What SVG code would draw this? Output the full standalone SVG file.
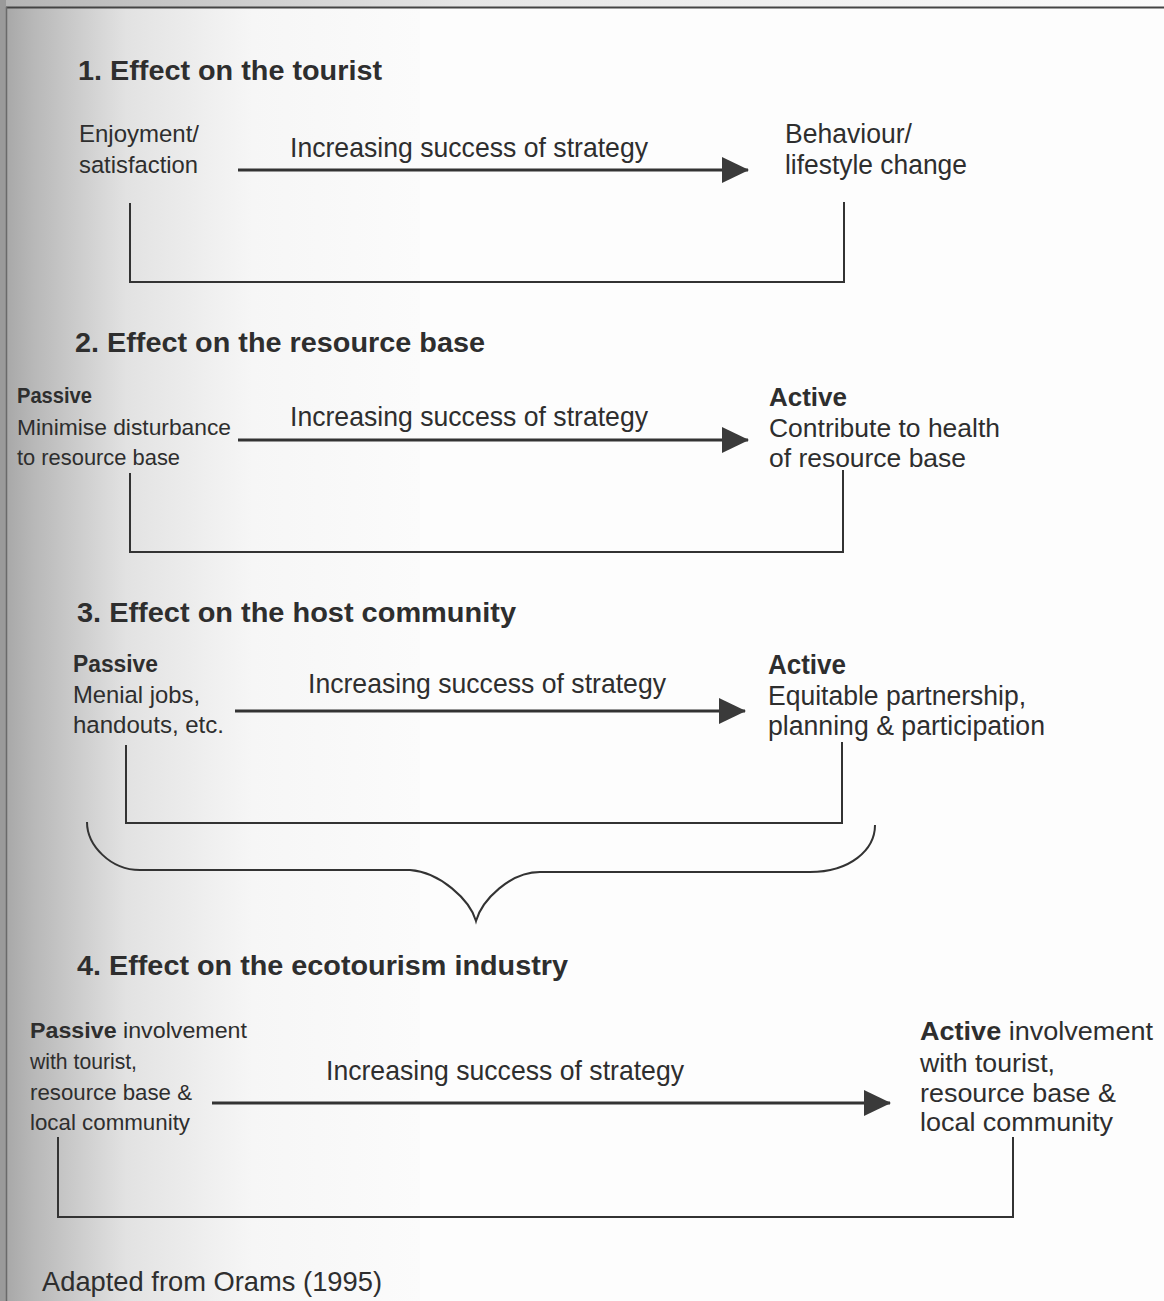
<svg xmlns="http://www.w3.org/2000/svg" width="1164" height="1301" viewBox="0 0 1164 1301">
<defs>
<linearGradient id="shade" x1="0" y1="0" x2="1" y2="0" gradientUnits="objectBoundingBox">
<stop offset="0" stop-color="#a4a4a4"/>
<stop offset="0.08" stop-color="#b8b8b8"/>
<stop offset="0.3" stop-color="#e2e2e2"/>
<stop offset="0.6" stop-color="#f6f6f6"/>
<stop offset="1" stop-color="#fbfbfb"/>
</linearGradient>
<linearGradient id="topshade" x1="0" y1="0" x2="1" y2="0">
<stop offset="0" stop-color="#b4b4b4"/>
<stop offset="0.4" stop-color="#e6e6e6"/>
<stop offset="1" stop-color="#fbfbfb"/>
</linearGradient>
<marker id="ah" markerUnits="userSpaceOnUse" markerWidth="28" markerHeight="28" viewBox="0 0 28 28" refX="26" refY="14" orient="auto">
<path d="M0,1 L27,14 L0,27 Z" fill="#3a3a3a"/>
</marker>
<style>
text{font-family:"Liberation Sans",Arial,sans-serif;fill:#2e2e2e}
.title{font-size:28.5px;font-weight:bold}
.mid{font-size:28px}
.b{font-weight:bold}
.arrow{stroke:#333;stroke-width:3.2;fill:none}
.brk{stroke:#333;stroke-width:2;fill:none}
</style>
</defs>
<rect x="0" y="0" width="1164" height="1301" fill="#fdfdfd"/>
<rect x="0" y="0" width="420" height="1301" fill="url(#shade)"/>
<rect x="0" y="0" width="1164" height="7" fill="url(#topshade)"/>
<rect x="0" y="0" width="6" height="1301" fill="#9a9a9a"/>
<line x1="6" y1="7.5" x2="1164" y2="7.5" stroke="#444" stroke-width="2"/>
<line x1="6.5" y1="7" x2="6.5" y2="1301" stroke="#6a6a6a" stroke-width="1.5"/>

<g id="section1">
<text class="title" x="78" y="80" textLength="304" lengthAdjust="spacingAndGlyphs">1.  Effect on the tourist</text>
<g id="s1-left" font-size="24.5"><text x="79" y="142" textLength="120" lengthAdjust="spacingAndGlyphs">Enjoyment/</text><text x="79" y="173" textLength="119" lengthAdjust="spacingAndGlyphs">satisfaction</text></g>
<text class="mid" x="290" y="157" textLength="358" lengthAdjust="spacingAndGlyphs">Increasing success of strategy</text>
<g id="s1-right" font-size="27"><text x="785" y="143" textLength="127" lengthAdjust="spacingAndGlyphs">Behaviour/</text><text x="785" y="174" textLength="182" lengthAdjust="spacingAndGlyphs">lifestyle change</text></g>
</g>

<g id="section2">
<text class="title" x="75" y="352" textLength="410" lengthAdjust="spacingAndGlyphs">2.  Effect on the resource base</text>
<g id="s2-left" font-size="22.5"><text x="17" y="403" font-size="21.5" class="b" textLength="75" lengthAdjust="spacingAndGlyphs">Passive</text><text x="17" y="435" textLength="214" lengthAdjust="spacingAndGlyphs">Minimise disturbance</text><text x="17" y="465" textLength="163" lengthAdjust="spacingAndGlyphs">to resource base</text></g>
<text class="mid" x="290" y="426" textLength="358" lengthAdjust="spacingAndGlyphs">Increasing success of strategy</text>
<g id="s2-right" font-size="26.5"><text x="769" y="406" class="b" textLength="78" lengthAdjust="spacingAndGlyphs">Active</text><text x="769" y="437" textLength="231" lengthAdjust="spacingAndGlyphs">Contribute to health</text><text x="769" y="467" textLength="197" lengthAdjust="spacingAndGlyphs">of resource base</text></g>
</g>

<g id="section3">
<text class="title" x="77" y="622" textLength="439" lengthAdjust="spacingAndGlyphs">3.  Effect on the host community</text>
<g id="s3-left" font-size="24.5"><text x="73" y="672" font-size="23.5" class="b" textLength="85" lengthAdjust="spacingAndGlyphs">Passive</text><text x="73" y="703" textLength="127" lengthAdjust="spacingAndGlyphs">Menial jobs,</text><text x="73" y="733" textLength="151" lengthAdjust="spacingAndGlyphs">handouts, etc.</text></g>
<text class="mid" x="308" y="693" textLength="358" lengthAdjust="spacingAndGlyphs">Increasing success of strategy</text>
<g id="s3-right" font-size="27"><text x="768" y="674" class="b" textLength="78" lengthAdjust="spacingAndGlyphs">Active</text><text x="768" y="705" textLength="258" lengthAdjust="spacingAndGlyphs">Equitable partnership,</text><text x="768" y="735" textLength="277" lengthAdjust="spacingAndGlyphs">planning &amp; participation</text></g>
</g>

<g id="section4">
<text class="title" x="77" y="975" textLength="491" lengthAdjust="spacingAndGlyphs">4.  Effect on the ecotourism industry</text>
<g id="s4-left" font-size="22.5"><text x="30" y="1038" textLength="217" lengthAdjust="spacingAndGlyphs"><tspan class="b">Passive</tspan> involvement</text><text x="30" y="1069" textLength="107" lengthAdjust="spacingAndGlyphs">with tourist,</text><text x="30" y="1100" textLength="162" lengthAdjust="spacingAndGlyphs">resource base &amp;</text><text x="30" y="1130" textLength="160" lengthAdjust="spacingAndGlyphs">local community</text></g>
<text class="mid" x="326" y="1080" textLength="358" lengthAdjust="spacingAndGlyphs">Increasing success of strategy</text>
<g id="s4-right" font-size="26.5"><text x="920" y="1040" textLength="233" lengthAdjust="spacingAndGlyphs"><tspan class="b">Active</tspan> involvement</text><text x="920" y="1072" textLength="135" lengthAdjust="spacingAndGlyphs">with tourist,</text><text x="920" y="1102" textLength="196" lengthAdjust="spacingAndGlyphs">resource base &amp;</text><text x="920" y="1131" textLength="193" lengthAdjust="spacingAndGlyphs">local community</text></g>
</g>

<g id="source"><text x="42" y="1291" font-size="27.3" textLength="340" lengthAdjust="spacingAndGlyphs">Adapted from Orams (1995)</text></g>

<g id="connectors">
<line class="arrow" x1="238" y1="170" x2="748" y2="170" marker-end="url(#ah)"/>
<line class="arrow" x1="238" y1="440" x2="748" y2="440" marker-end="url(#ah)"/>
<line class="arrow" x1="235" y1="711" x2="745" y2="711" marker-end="url(#ah)"/>
<line class="arrow" x1="212" y1="1103" x2="890" y2="1103" marker-end="url(#ah)"/>
<polyline class="brk" points="130,203 130,282 844,282 844,202"/>
<polyline class="brk" points="130,473 130,552 843,552 843,470"/>
<polyline class="brk" points="126,745 126,823 842,823 842,742"/>
<polyline class="brk" points="58,1137 58,1217 1013,1217 1013,1137"/>
<path class="brk" stroke-width="2.4" d="M87,822 C87,845 110,870 140,870 L410,870 C440,872 470,900 476,921 C482,900 510,872 540,872 L810,872 C850,872 875,850 875,825"/>
</g>
</svg>
